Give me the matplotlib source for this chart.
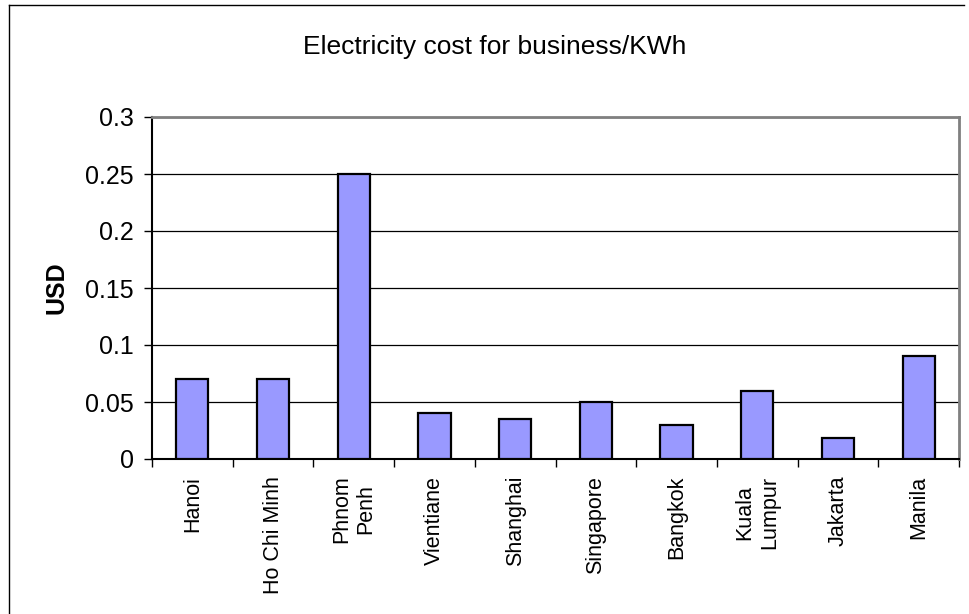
import matplotlib.pyplot as plt
from matplotlib.lines import Line2D

plt.rcParams['font.family'] = ['Liberation Sans', 'DejaVu Sans']

cities = ['Hanoi', 'Ho Chi Minh', 'Phnom\nPenh', 'Vientiane', 'Shanghai',
          'Singapore', 'Bangkok', 'Kuala\nLumpur', 'Jakarta', 'Manila']
cost_usd = [0.07, 0.07, 0.25, 0.04, 0.035, 0.05, 0.03, 0.06, 0.018, 0.09]
yticks = [0, 0.05, 0.1, 0.15, 0.2, 0.25, 0.3]
ytick_labels = ['0', '0.05', '0.1', '0.15', '0.2', '0.25', '0.3']

W, H = 969, 614
fig = plt.figure(figsize=(W / 100, H / 100), dpi=100)
ax = fig.add_axes([152 / W, 1 - 459 / H, (959 - 152) / W, (459 - 117) / H])

x = range(len(cities))
ax.bar(x, cost_usd, width=0.4, color='#9999ff', edgecolor='black',
       linewidth=1.6, zorder=3)

ax.set_xlim(-0.5, len(cities) - 0.5)
ax.set_ylim(0, 0.3)
ax.set_yticks(yticks)
ax.set_yticklabels(ytick_labels, fontsize=18)
ax.yaxis.grid(True, color='black', linewidth=0.9, zorder=0)

# category ticks sit between the bars, labels centred under them
ax.set_xticks([i + 0.5 for i in range(-1, len(cities))])
ax.set_xticklabels([])
ax.set_xticks(list(x), minor=True)
ax.set_xticklabels(cities, minor=True, rotation=90, fontsize=15.5,
                   va='top', ha='center')
ax.tick_params(axis='x', which='minor', length=0, pad=12)
ax.tick_params(axis='x', which='major', length=6, width=1, direction='out')
ax.tick_params(axis='y', length=6, width=1, direction='out', pad=7)

for side in ('left', 'bottom'):
    ax.spines[side].set_color('black')
    ax.spines[side].set_linewidth(1.5)
for side in ('top', 'right'):
    ax.spines[side].set_color('#808080')
    ax.spines[side].set_linewidth(2)

ax.set_ylabel('USD', fontsize=18, fontweight='bold', labelpad=12)
fig.text(495 / W, 1 - 47 / H, 'Electricity cost for business/KWh',
         fontsize=19, ha='center', va='center')

# chart frame, clipped at the right and bottom edges
fig.add_artist(Line2D([9 / W, 964 / W], [1 - 5 / H, 1 - 5 / H],
                      transform=fig.transFigure, color='black', lw=1))
fig.add_artist(Line2D([9 / W, 9 / W], [1 - 5 / H, 0],
                      transform=fig.transFigure, color='black', lw=1))

fig.savefig('out.png', dpi=100)
